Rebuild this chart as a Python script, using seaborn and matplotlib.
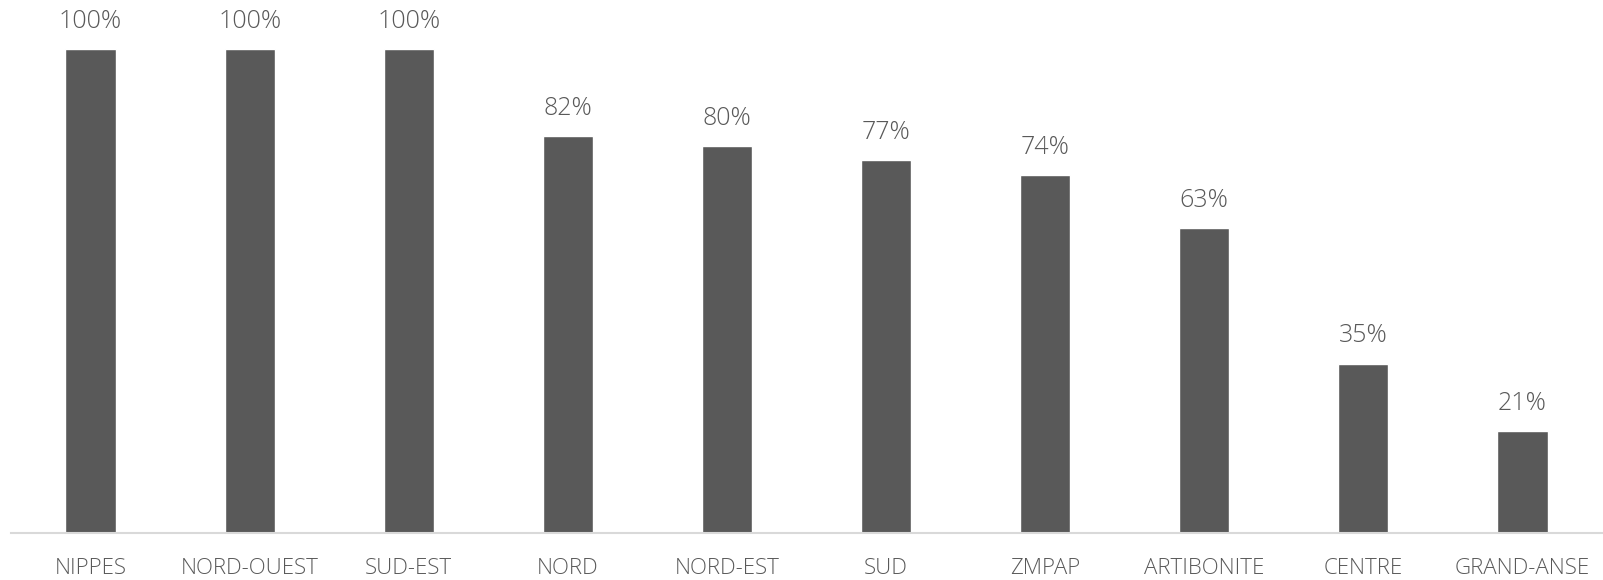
import matplotlib
matplotlib.use("Agg")
import matplotlib.pyplot as plt
import seaborn as sns
import pandas as pd

regions = ["NIPPES", "NORD-OUEST", "SUD-EST", "NORD", "NORD-EST", "SUD",
           "ZMPAP", "ARTIBONITE", "CENTRE", "GRAND-ANSE"]
values = [100, 100, 100, 82, 80, 77, 74, 63, 35, 21]
labels = [f"{v}%" for v in values]

sns.set_theme(style="white")
plt.rcParams['font.family'] = ['Open Sans', 'DejaVu Sans']

df = pd.DataFrame({"region": regions, "value": values})

W, H = 1603, 580
fig = plt.figure(figsize=(W / 100, H / 100), dpi=100)
ax = fig.add_axes([11 / W, (H - 533) / H, 1591 / W, 484 / H])

sns.barplot(data=df, x="region", y="value", color="#595959", width=0.315,
            saturation=1, ax=ax)

ax.set_xlim(-0.5, len(regions) - 0.5)
ax.set_ylim(0, 100)
ax.set_xlabel("")
ax.set_ylabel("")
ax.set_yticks([])
for s in ["top", "right", "left"]:
    ax.spines[s].set_visible(False)
ax.spines["bottom"].set_color("#d9d9d9")
ax.spines["bottom"].set_linewidth(1.5)
ax.tick_params(axis="x", length=0, pad=18, labelsize=16, labelcolor="#595959")
for t in ax.get_xticklabels():
    t.set_fontweight("light")

for i, (v, lab) in enumerate(zip(values, labels)):
    ax.annotate(lab, (i, v), xytext=(0, 11), textcoords="offset points",
                ha="center", va="bottom", fontsize=18, color="#595959",
                fontweight="light", annotation_clip=False)

fig.savefig("out.png", dpi=100)
